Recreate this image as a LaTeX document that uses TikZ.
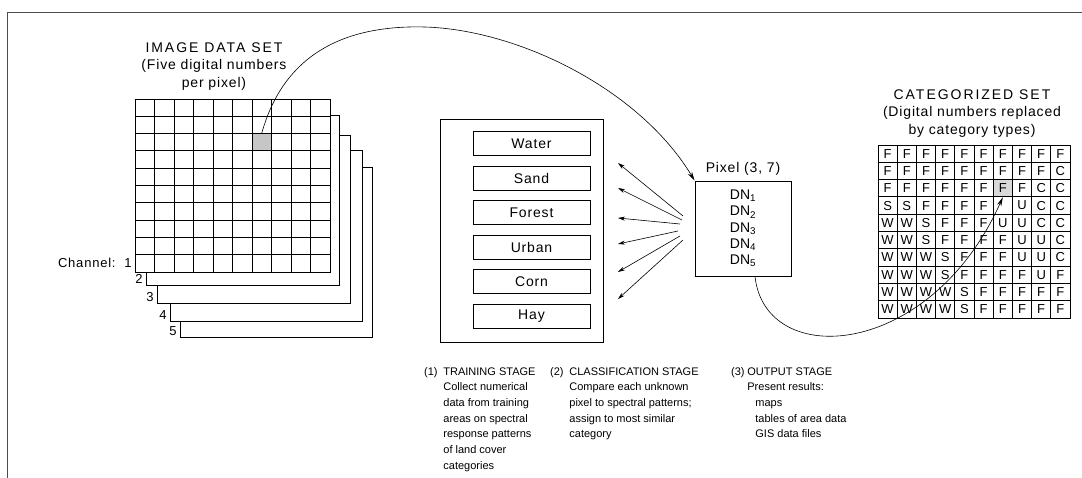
\documentclass[tikz,border=0pt]{standalone}
\usepackage{fontspec}
\setmainfont{Liberation Sans}
\newfontfamily\capsfont{Liberation Sans}[LetterSpace=14]
\newfontfamily\wideface{Liberation Sans}[LetterSpace=6]
\usetikzlibrary{arrows.meta,positioning}

\begin{document}
\begin{tikzpicture}[x=1pt,y=-1pt,line width=0.8pt,
  classbox/.style={draw,minimum width=117pt,minimum height=24pt,inner sep=0pt,font=\wideface\fontsize{14}{14}\selectfont},
  catletter/.style={minimum width=19.2pt,minimum height=17.3pt,inner sep=0pt,font=\fontsize{13}{13}\selectfont},
  chnum/.style={anchor=base east,inner sep=0pt,font=\fontsize{13}{13}\selectfont},
  stagetext/.style={anchor=north west,align=left,inner sep=0pt,font=\fontsize{11}{15.7}\selectfont},
  titletext/.style={anchor=north,align=center,inner sep=0pt,font=\wideface\fontsize{14}{17.5}\selectfont},
  fan/.style={-{Stealth[length=7pt,width=4pt]},line width=0.6pt},
  link/.style={-{Stealth[length=9pt,width=4.5pt]},line width=0.6pt}]
\useasboundingbox (0,0) rectangle (1082,478);
\draw[black!70,line width=1pt] (7.5,478) -- (7.5,12.5) -- (1082,12.5);
\draw[fill=white] (180,167) rectangle (372,337);
\draw[fill=white] (170,150) rectangle (362,321);
\draw[fill=white] (157,135) rectangle (350,303);
\draw[fill=white] (146,115) rectangle (339,285);
\draw[fill=white] (135,99) rectangle (330,272);
\foreach \i in {1,...,9}
  \draw ({135+19.5*\i},99) -- ({135+19.5*\i},272) (135,{99+17.3*\i}) -- (330,{99+17.3*\i});
\node[draw,fill=gray!45,minimum width=19.5pt,minimum height=17.3pt,inner sep=0pt] (px) at (261.75,142.25) {};
\node[chnum,font=\wideface\fontsize{13}{13}\selectfont] (ch1) at (132,268) {Channel:\ \ 1};
\node[chnum] (ch2) at (143,284) {2};
\node[chnum] (ch3) at (154,302) {3};
\node[chnum] (ch4) at (167,320) {4};
\node[chnum] (ch5) at (177,336) {5};
\node[titletext] (imgtitle) at (214,42) {{\capsfont IMAGE DATA SET}\\(Five digital numbers\\per pixel)};

\node[draw,minimum width=163pt,minimum height=223pt,inner sep=0pt] (train) at (521.5,230.5) {};
\node[classbox] (water) at (531.5,143.5) {Water};
\node[classbox] (sand) at (531.5,178) {Sand};
\node[classbox] (forest) at (531.5,212.5) {Forest};
\node[classbox] (urban) at (531.5,247) {Urban};
\node[classbox] (corn) at (531.5,281.5) {Corn};
\node[classbox] (hay) at (531.5,316) {Hay};

\node[draw,minimum width=96pt,minimum height=95pt,align=center,inner sep=0pt,font=\fontsize{14}{16.2}\selectfont] (pixel) at (743,228.5)
  {DN\textsubscript{1}\\DN\textsubscript{2}\\DN\textsubscript{3}\\DN\textsubscript{4}\\DN\textsubscript{5}};
\node[above=5pt of pixel,inner sep=0pt,font=\wideface\fontsize{14}{14}\selectfont] (pixlabel) {Pixel (3, 7)};
\draw[link] (px.north) .. controls (285,50) and (350,25) .. (425,27) .. controls (520,30) and (640,90) .. (pixel.north west);

\coordinate (f1) at (683,216);
\coordinate (f2) at (682,220);
\coordinate (f3) at (680,224);
\coordinate (f4) at (678,231);
\coordinate (f5) at (680,236);
\coordinate (f6) at (683,240);
\coordinate (t1) at (618,163);
\coordinate (t2) at (618,188);
\coordinate (t3) at (618,218);
\coordinate (t4) at (618,244);
\coordinate (t5) at (618,272);
\coordinate (t6) at (618,299);
\foreach \i in {1,...,6}
  \draw[fan] (f\i) -- (t\i);

\node[titletext] (cattitle) at (972,89) {{\capsfont CATEGORIZED SET}\\(Digital numbers replaced\\by category types)};
\fill[gray!30] (993.2,179.6) rectangle +(19.2,17.3);
\draw (878,145) rectangle (1070,318);
\foreach \i in {1,...,9}
  \draw ({878+19.2*\i},145) -- ({878+19.2*\i},318) (878,{145+17.3*\i}) -- (1070,{145+17.3*\i});
\foreach \row [count=\r] in {{F,F,F,F,F,F,F,F,F,F},{F,F,F,F,F,F,F,F,F,C},{F,F,F,F,F,F,F,F,C,C},
    {S,S,F,F,F,F,{},U,C,C},{W,W,S,F,F,F,U,U,C,C},{W,W,S,F,F,F,F,U,U,C},{W,W,W,S,F,F,F,U,U,C},
    {W,W,W,S,F,F,F,F,U,F},{W,W,W,W,S,F,F,F,F,F},{W,W,W,W,S,F,F,F,F,F}}
  \foreach \cell [count=\c] in \row
    \node[catletter] (c-\r-\c) at ({878+19.2*(\c-0.5)},{145+17.3*(\r-0.5)}) {\cell};
\draw[link] ([xshift=12pt]pixel.south) .. controls (765,370) and (930,360) .. (c-3-7.south);

\node[stagetext] (st1) at (443,367) {TRAINING STAGE\\Collect numerical\\data from training\\areas on spectral\\response patterns\\of land cover\\categories};
\node[stagetext,anchor=north east] (n1) at ([xshift=-5pt]st1.north west) {(1)};
\node[stagetext] (st2) at (569,367) {CLASSIFICATION STAGE\\Compare each unknown\\pixel to spectral patterns;\\assign to most similar\\category};
\node[stagetext,anchor=north east] (n2) at ([xshift=-5pt]st2.north west) {(2)};
\node[stagetext] (st3) at (747,367) {OUTPUT STAGE\\Present results:\\\hspace*{8pt}maps\\\hspace*{8pt}tables of area data\\\hspace*{8pt}GIS data files};
\node[stagetext,anchor=north east] (n3) at ([xshift=-2pt]st3.north west) {(3)};
\end{tikzpicture}
\end{document}
